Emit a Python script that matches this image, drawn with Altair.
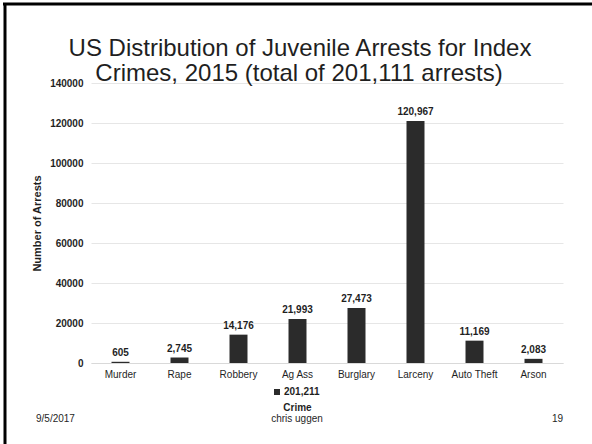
import altair as alt
import pandas as pd

crimes = ["Murder", "Rape", "Robbery", "Ag Ass", "Burglary", "Larceny", "Auto Theft", "Arson"]
arrests = [605, 2745, 14176, 21993, 27473, 120967, 11169, 2083]
series_name = "201,211"
y_ticks = [0, 20000, 40000, 60000, 80000, 100000, 120000, 140000]
title_lines = ["US Distribution of Juvenile Arrests for Index",
               "Crimes, 2015 (total of 201,111 arrests)"]
footer_left = "9/5/2017"
footer_center = "chris uggen"
footer_right = "19"

df = pd.DataFrame({"crime": crimes, "arrests": arrests, "series": [series_name] * len(crimes)})
one = pd.DataFrame({"k": [0]})

BAR = "#2b2b2b"
FONT = "Liberation Sans"
TXT = "#1f1f1f"

x_enc = alt.X("crime:N", sort=crimes,
              scale=alt.Scale(paddingInner=0.695, paddingOuter=0.3475),
              axis=alt.Axis(labelAngle=0, labelFontSize=10, labelPadding=6, ticks=False,
                            domainColor="#d9d9d9", grid=False, labelColor=TXT,
                            title="Crime", titleFontSize=10, titleFontWeight="bold",
                            titleX=206, titleY=47, titleBaseline="alphabetic",
                            titleColor=TXT))
y_enc = alt.Y("arrests:Q", scale=alt.Scale(domain=[0, 140000], nice=False),
              axis=alt.Axis(values=y_ticks, format="d", labelFontWeight="bold", labelFontSize=10,
                            labelPadding=8, domain=False, ticks=False, gridColor="#e6e6e6",
                            labelColor=TXT, labelOverlap=False, labelFlush=False,
                            title="Number of Arrests", titleFontSize=11, titleFontWeight="bold",
                            titlePadding=7, titleColor=TXT))

bars = alt.Chart(df).mark_bar(color=BAR).encode(
    x=x_enc, y=y_enc,
    color=alt.Color("series:N", scale=alt.Scale(range=[BAR]),
                    legend=alt.Legend(orient="none", legendX=181, legendY=304, title=None,
                                      symbolType="square", symbolSize=36, labelFontSize=10,
                                      labelFontWeight="bold", labelOffset=2, padding=0,
                                      labelColor=TXT, symbolStrokeWidth=0)),
)

labels = alt.Chart(df).mark_text(fontSize=10, fontWeight="bold", baseline="bottom", dy=-4,
                                 color=TXT, font=FONT).encode(
    x=x_enc, y=y_enc, text=alt.Text("arrests:Q", format=","))

def txt(s, x, y, size, align="center", weight="normal"):
    return alt.Chart(one).mark_text(text=s, fontSize=size, align=align, baseline="alphabetic",
                                    fontWeight=weight, color=TXT, font=FONT).encode(
        x=alt.value(x), y=alt.value(y))

title1 = txt(title_lines[0], 209, -27, 24)
title2 = txt(title_lines[1], 208, -2, 24)
f_left = txt(footer_left, -55, 339, 10, align="left")
f_center = txt(footer_center, 206, 339, 10)
f_right = txt(footer_right, 472, 339, 10, align="right")

top_border = alt.Chart(one).mark_rule(color="black", strokeWidth=3).encode(
    x=alt.value(-88), x2=alt.value(501), y=alt.value(-79))
left_border = alt.Chart(one).mark_rule(color="black", strokeWidth=3).encode(
    x=alt.value(-86), y=alt.value(-80), y2=alt.value(361))

chart = alt.layer(bars, labels, title1, title2, f_left, f_center, f_right,
                  top_border, left_border).properties(
    width=472, height=280,
    autosize=alt.AutoSizeParams(type="none"),
    padding={"left": 91, "top": 83, "right": 29, "bottom": 81},
    background="white",
).configure(font=FONT).configure_view(stroke="transparent", strokeWidth=0)

chart.save("out.html", embed_options={"renderer": "svg", "actions": False})
